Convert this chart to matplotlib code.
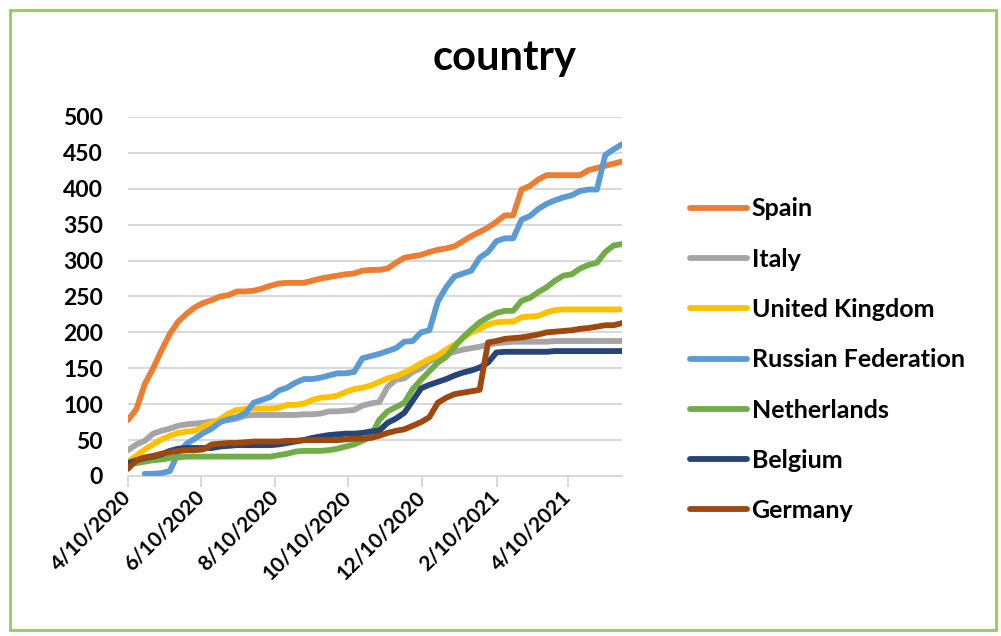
import matplotlib
matplotlib.use("Agg")
import matplotlib.pyplot as plt
from matplotlib.patches import Rectangle
import pandas as pd
import numpy as np

plt.rcParams['font.family'] = ['Lato', 'DejaVu Sans']

# ---- data ----
start_date = "2020-04-10"
end_date = "2021-05-25"
n_points = 60

spain = [78, 93, 128, 150, 175, 198, 215, 226, 235, 241, 245, 250, 252, 257, 257,
         258, 261, 265, 268, 269, 269, 269, 272, 275, 277, 279, 281, 282, 286, 287,
         287, 289, 297, 304, 306, 308, 312, 315, 317, 320, 327, 334, 340, 346, 354,
         363, 363, 399, 404, 413, 419, 419, 419, 419, 419, 426, 429, 432, 435, 438]
italy = [36, 44, 49, 59, 63, 66, 70, 72, 73, 74, 76, 77, 78, 80, 84,
         85, 85, 85, 85, 85, 85, 86, 86, 87, 90, 90, 91, 92, 98, 101,
         103, 124, 134, 136, 145, 150, 160, 165, 170, 173, 176, 178, 180, 183, 185,
         186, 187, 187, 187, 187, 187, 188, 188, 188, 188, 188, 188, 188, 188, 188]
uk = [20, 28, 37, 44, 51, 56, 60, 62, 63, 69, 74, 79, 87, 92, 93,
      94, 94, 94, 95, 99, 99, 101, 106, 109, 110, 112, 117, 121, 123, 126,
      131, 136, 139, 144, 150, 157, 163, 168, 176, 183, 192, 200, 205, 211, 214,
      215, 215, 221, 222, 223, 228, 231, 232, 232, 232, 232, 232, 232, 232, 232]
russia = [np.nan, np.nan, 3, 3, 4, 7, 32, 45, 52, 60, 66, 75, 79, 82, 87,
          102, 106, 110, 119, 123, 130, 135, 135, 137, 140, 143, 143, 145, 164, 167,
          170, 174, 178, 187, 188, 200, 203, 243, 263, 278, 282, 286, 304, 312, 327,
          331, 331, 357, 362, 372, 379, 384, 388, 391, 397, 399, 399, 447, 455, 462]
netherlands = [17, 18, 20, 22, 23, 25, 26, 27, 27, 27, 27, 27, 27, 27, 27,
               27, 27, 27, 29, 31, 34, 35, 35, 35, 36, 38, 41, 44, 49, 55,
               78, 90, 96, 102, 121, 134, 146, 158, 166, 180, 193, 204, 214, 221, 227,
               230, 230, 244, 248, 256, 263, 272, 279, 281, 289, 294, 297, 312, 321, 323]
belgium = [18, 22, 25, 27, 30, 35, 38, 39, 39, 39, 39, 41, 42, 43, 43,
           43, 43, 43, 44, 46, 48, 50, 53, 55, 57, 58, 59, 59, 60, 62,
           63, 74, 80, 88, 105, 122, 127, 131, 135, 140, 144, 147, 151, 158, 172,
           173, 173, 173, 173, 173, 173, 174, 174, 174, 174, 174, 174, 174, 174, 174]
germany = [10, 22, 26, 28, 31, 33, 35, 36, 36, 37, 44, 45, 46, 46, 47,
           48, 48, 48, 48, 49, 49, 50, 50, 50, 50, 50, 51, 52, 52, 53,
           56, 60, 63, 65, 70, 75, 82, 102, 109, 114, 116, 118, 120, 186, 188,
           191, 192, 193, 195, 197, 200, 201, 202, 203, 205, 206, 208, 210, 210, 213]

series_names = ["Spain", "Italy", "United Kingdom", "Russian Federation",
                "Netherlands", "Belgium", "Germany"]
series_values = [spain, italy, uk, russia, netherlands, belgium, germany]
series_colors = ["#ED7D31", "#A5A5A5", "#FFC000", "#5B9BD5",
                 "#70AD47", "#264478", "#9E480E"]

tick_dates = ["2020-04-10", "2020-06-10", "2020-08-10", "2020-10-10",
              "2020-12-10", "2021-02-10", "2021-04-10"]
tick_labels = ["4/10/2020", "6/10/2020", "8/10/2020", "10/10/2020",
               "12/10/2020", "2/10/2021", "4/10/2021"]
y_ticks = [0, 50, 100, 150, 200, 250, 300, 350, 400, 450, 500]

dates = pd.date_range(start_date, end_date, periods=n_points)

# ---- figure ----
W, H = 1001, 636
fig = plt.figure(figsize=(W / 100, H / 100), dpi=100)
fig.patch.set_facecolor("white")

ax = fig.add_axes([128 / W, 1 - 476 / H, (622 - 128) / W, (476 - 117) / H])

for name, vals, col in zip(series_names, series_values, series_colors):
    ax.plot(dates, vals, color=col, lw=4.2, label=name,
            solid_capstyle="round", solid_joinstyle="round", zorder=3)

ax.set_xlim(dates[0], dates[-1])
ax.set_ylim(0, 500)
ax.set_yticks(y_ticks)
ax.set_yticklabels([str(v) for v in y_ticks], fontsize=16.5, fontweight="bold")
ax.tick_params(axis="y", length=0, pad=18)
ax.yaxis.grid(True, color="#D9D9D9", lw=1.5, zorder=0)
ax.set_axisbelow(True)

ax.set_xticks(pd.to_datetime(tick_dates))
ax.set_xticklabels(tick_labels, fontsize=15, fontweight="bold",
                   rotation=45, ha="right", va="center", rotation_mode="anchor")
ax.tick_params(axis="x", length=8, width=1.5, color="#D9D9D9", direction="out", pad=5)

for s in ["top", "right", "left"]:
    ax.spines[s].set_visible(False)
ax.spines["bottom"].set_color("#D9D9D9")
ax.spines["bottom"].set_linewidth(1.5)

fig.text(505 / W, 1 - 58 / H, "country", ha="center", va="center",
         fontsize=30, fontweight="bold")

leg = fig.legend(loc="upper left", bbox_to_anchor=(667 / W, 1 - 175 / H),
                 frameon=False, fontsize=18, handlelength=2.28,
                 handletextpad=0.2, labelspacing=1.09)
for t in leg.get_texts():
    t.set_fontweight("bold")
for l in leg.get_lines():
    l.set_linewidth(4.2)

fig.add_artist(Rectangle((10 / W, 6 / H), (996 - 10) / W, (630 - 10) / H,
                         transform=fig.transFigure, fill=False,
                         edgecolor="#92D050", lw=2))

fig.savefig("out.png", dpi=100)
